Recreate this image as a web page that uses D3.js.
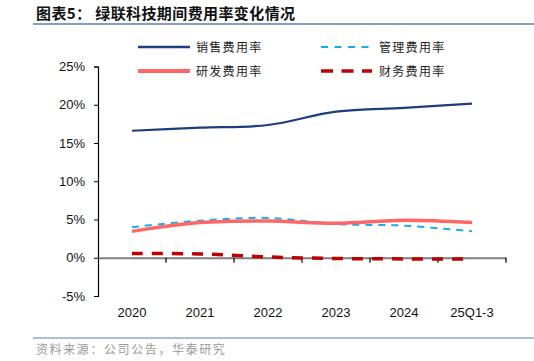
<!DOCTYPE html>
<html>
<head>
<meta charset="utf-8">
<script src="https://cdn.jsdelivr.net/npm/d3@7"></script>
<style>
  body { margin: 0; background: #fff; }
  svg { display: block; }
</style>
</head>
<body>
<script>
// data
const categories = ["2020", "2021", "2022", "2023", "2024", "25Q1-3"];
const salesRate = [16.6, 17.0, 17.35, 19.1, 19.6, 20.15];
const adminRate = [4.0, 4.85, 5.2, 4.4, 4.2, 3.45];
const rdRate = [3.45, 4.6, 4.8, 4.5, 4.9, 4.6];
const financeRate = [0.55, 0.5, 0.1, -0.1, -0.15, -0.15];
const yTicks = [-5, 0, 5, 10, 15, 20, 25];

const series = [
  {name: "销售费用率", values: salesRate, color: "#1c3f7c", width: 2.2, dash: null},
  {name: "管理费用率", values: adminRate, color: "#14aef0", width: 2, dash: "7,6"},
  {name: "研发费用率", values: rdRate, color: "#ff6666", width: 3.5, dash: null},
  {name: "财务费用率", values: financeRate, color: "#c00000", width: 3.5, dash: "11,9"}
];

const width = 534, height = 361;
const svg = d3.select("body").append("svg")
    .attr("width", width).attr("height", height);

const cjk = "'Noto Sans CJK SC', sans-serif";
const latin = "'Liberation Sans', Arial, sans-serif";

// title + rule
svg.append("text")
    .attr("x", 36).attr("y", 19)
    .attr("font-family", cjk).attr("font-size", 15).attr("font-weight", "bold")
    .attr("letter-spacing", 0.4)
    .attr("fill", "#111")
    .text("图表5：  绿联科技期间费用率变化情况");
svg.append("line")
    .attr("x1", 33).attr("x2", width).attr("y1", 24).attr("y2", 24)
    .attr("stroke", "#5a7db3").attr("stroke-width", 1.3);

// scales
const x = d3.scaleBand().domain(categories).range([98, 506]);
const y = d3.scaleLinear().domain([-5, 25]).range([296, 66.5]);
const cx = d => x(d) + x.bandwidth() / 2;

// y axis
const yAxis = svg.append("g")
    .attr("transform", "translate(98,0)")
    .call(d3.axisLeft(y).tickValues(yTicks).tickSize(4).tickPadding(9)
      .tickFormat(d => d + "%"));
yAxis.select(".domain").attr("stroke", "#000").attr("stroke-width", 1.2);
yAxis.selectAll(".tick line").attr("stroke", "#000");
yAxis.selectAll("text").attr("font-family", latin).attr("font-size", 13).attr("fill", "#111");

// x axis at zero
const xAxis = svg.append("g")
    .attr("transform", `translate(0,${y(0)})`)
    .call(d3.axisBottom(x).tickSize(0).tickFormat(""));
xAxis.select(".domain").attr("stroke", "#7f7f7f").attr("stroke-width", 2);
xAxis.selectAll(".tick").remove();
svg.append("g").selectAll("line")
    .data(categories)
    .enter().append("line")
    .attr("x1", d => x(d) + x.bandwidth()).attr("x2", d => x(d) + x.bandwidth())
    .attr("y1", y(0)).attr("y2", y(0) + 5)
    .attr("stroke", "#000").attr("stroke-width", 1.2);

// category labels below the plot
svg.append("g").selectAll("text")
    .data(categories)
    .enter().append("text")
    .attr("x", d => cx(d)).attr("y", 317)
    .attr("text-anchor", "middle")
    .attr("font-family", latin).attr("font-size", 13).attr("fill", "#111")
    .text(d => d);

// lines
const line = d3.line()
    .x((v, i) => cx(categories[i]))
    .y(v => y(v))
    .curve(d3.curveCatmullRom.alpha(0.5));

svg.append("g").selectAll("path")
    .data(series)
    .enter().append("path")
    .attr("d", d => line(d.values))
    .attr("fill", "none")
    .attr("stroke", d => d.color)
    .attr("stroke-width", d => d.width)
    .attr("stroke-dasharray", d => d.dash);

// legend
const legendPos = [[138, 47], [321, 47], [138, 71], [321, 71]];
const legend = svg.append("g").selectAll("g")
    .data(series)
    .enter().append("g")
    .attr("transform", (d, i) => `translate(${legendPos[i][0]},${legendPos[i][1]})`);
legend.append("line")
    .attr("x1", 0).attr("x2", (d, i) => i % 2 ? 51 : 52)
    .attr("y1", 0).attr("y2", 0)
    .attr("stroke", d => d.color)
    .attr("stroke-width", (d, i) => i === 3 ? 3.5 : (i === 2 ? 4 : (i === 0 ? 2.5 : 2.2)))
    .attr("stroke-dasharray", (d, i) => i === 1 ? "7,6.5" : (i === 3 ? "12,8.5" : null));
legend.append("text")
    .attr("x", (d, i) => i % 2 ? 58 : 58).attr("y", 4.5)
    .attr("font-family", cjk).attr("font-size", 12).attr("letter-spacing", 1.3)
    .attr("fill", "#222")
    .text(d => d.name);

// source
svg.append("line")
    .attr("x1", 33).attr("x2", width).attr("y1", 338).attr("y2", 338)
    .attr("stroke", "#5a7db3").attr("stroke-width", 1);
svg.append("text")
    .attr("x", 36).attr("y", 354)
    .attr("font-family", cjk).attr("font-size", 12).attr("letter-spacing", 1.6)
    .attr("fill", "#9a9a9a")
    .text("资料来源：公司公告，华泰研究");
</script>
</body>
</html>
